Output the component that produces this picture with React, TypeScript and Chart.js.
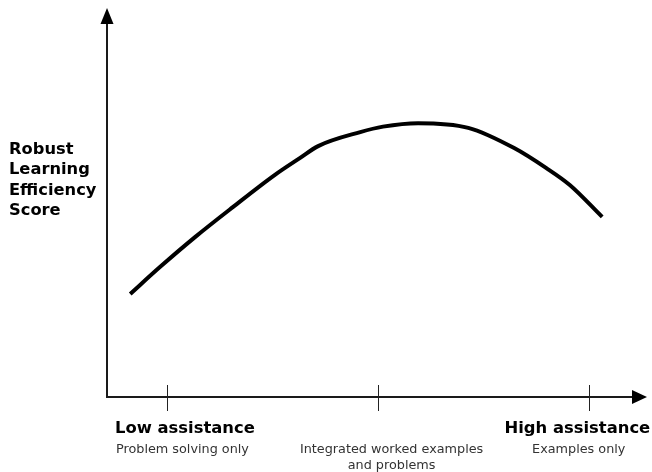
import React, { useEffect, useRef } from "react";
import { Chart, registerables } from "chart.js";

Chart.register(...registerables);

// Assistance level (0 = none, 100 = full) and robust learning efficiency score
const assistanceLevels = [4.3, 9.8, 16.3, 23.3, 31.1, 35.7, 39.1, 46.9, 51.1, 57.6, 66.9, 75.4, 81.3, 85.7, 91.7];
const efficiencyScores = [26.5, 33.4, 41.1, 48.8, 57.1, 61.4, 64.5, 68.1, 69.5, 70.4, 69.2, 64.0, 58.9, 54.5, 46.3];

const tickValues = [11.1, 50.2, 89.3];
const mainTickLabels = ["Low assistance", "", "High assistance"];
const subTickLabels = [["Problem solving only"], ["Integrated worked examples", "and problems"], ["Examples only"]];
const yTitleLines = ["Robust", "Learning", "Efficiency", "Score"];

const axesPlugin = {
  id: "arrowAxes",
  afterDraw(chart: any) {
    const ctx = chart.ctx as CanvasRenderingContext2D;
    const xs = chart.scales.x;
    const ys = chart.scales.y;
    const x0 = xs.getPixelForValue(0);
    const x1 = xs.getPixelForValue(100);
    const y0 = ys.getPixelForValue(0);
    const y1 = ys.getPixelForValue(100);
    ctx.save();
    ctx.strokeStyle = "#1a1a1a";
    ctx.fillStyle = "#000";
    ctx.lineWidth = 2;
    ctx.beginPath();
    ctx.moveTo(x0, y1 + 14);
    ctx.lineTo(x0, y0);
    ctx.lineTo(x1 - 12, y0);
    ctx.stroke();
    // y arrow
    ctx.beginPath();
    ctx.moveTo(x0, y1);
    ctx.lineTo(x0 - 6.5, y1 + 16);
    ctx.lineTo(x0 + 6.5, y1 + 16);
    ctx.closePath();
    ctx.fill();
    // x arrow
    ctx.beginPath();
    ctx.moveTo(x1, y0);
    ctx.lineTo(x1 - 15, y0 - 7);
    ctx.lineTo(x1 - 15, y0 + 7);
    ctx.closePath();
    ctx.fill();
    // ticks
    ctx.lineWidth = 1;
    ctx.strokeStyle = "#222";
    tickValues.forEach((v) => {
      const px = Math.round(xs.getPixelForValue(v)) + 0.5;
      ctx.beginPath();
      ctx.moveTo(px, y0 - 12);
      ctx.lineTo(px, y0 + 14);
      ctx.stroke();
    });
    // main tick labels
    ctx.fillStyle = "#000";
    ctx.font = "bold 16.4px 'DejaVu Sans'";
    ctx.textBaseline = "alphabetic";
    ctx.textAlign = "left";
    ctx.fillText(mainTickLabels[0], xs.getPixelForValue(tickValues[0]) - 52, y0 + 36);
    ctx.textAlign = "right";
    ctx.fillText(mainTickLabels[2], xs.getPixelForValue(tickValues[2]) + 61, y0 + 36);
    // sub labels
    ctx.fillStyle = "#333";
    ctx.font = "12.8px 'DejaVu Sans'";
    ctx.textAlign = "center";
    const subOffsets = [15.5, 13.5, -10.5];
    subTickLabels.forEach((lines, i) => {
      const cx = xs.getPixelForValue(tickValues[i]) + subOffsets[i];
      lines.forEach((t, j) => ctx.fillText(t, cx, y0 + 56 + j * 16));
    });
    // y title
    ctx.fillStyle = "#000";
    ctx.font = "bold 16.3px 'DejaVu Sans'";
    ctx.textAlign = "left";
    yTitleLines.forEach((t, i) => ctx.fillText(t, 9, 154 + i * 20.4));
    ctx.restore();
  },
};

export default function App() {
  const ref = useRef<HTMLCanvasElement | null>(null);
  useEffect(() => {
    document.body.style.margin = "0";
    const chart = new Chart(ref.current!, {
      type: "line",
      data: {
        datasets: [
          {
            data: assistanceLevels.map((x, i) => ({ x, y: efficiencyScores[i] })),
            borderColor: "#000",
            borderWidth: 4,
            pointRadius: 0,
            cubicInterpolationMode: "monotone",
            borderCapStyle: "butt",
            fill: false,
          },
        ],
      },
      options: {
        animation: false,
        responsive: false,
        maintainAspectRatio: false,
        layout: { padding: { left: 107, right: 5, top: 8, bottom: 75 } },
        plugins: { legend: { display: false }, tooltip: { enabled: false } },
        scales: {
          x: { type: "linear", min: 0, max: 100, display: false },
          y: { type: "linear", min: 0, max: 100, display: false },
        },
      },
      plugins: [axesPlugin],
    });
    return () => chart.destroy();
  }, []);
  return (
    <div style={{ position: "absolute", left: 0, top: 0, width: 652, height: 472, background: "#fff" }}>
      <canvas ref={ref} width={652} height={472} style={{ width: 652, height: 472 }} />
    </div>
  );
}
